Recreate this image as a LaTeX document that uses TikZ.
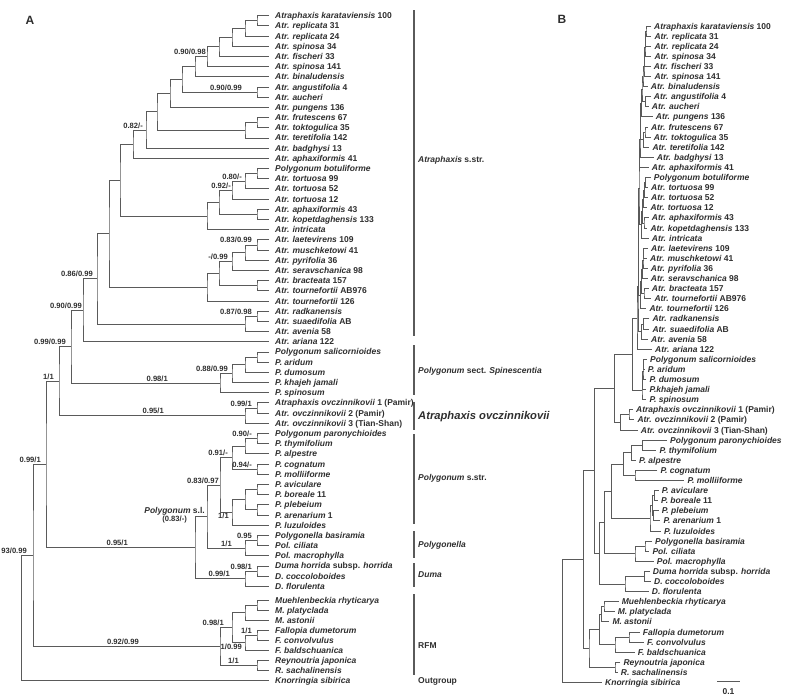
\documentclass[tikz,border=0pt]{standalone}
\usepackage{fontspec}
\setmainfont{Liberation Sans}
\usetikzlibrary{calc}
\definecolor{ink}{HTML}{2E2E2E}
\definecolor{edge}{HTML}{5A5A5A}
\tikzset{
  branch/.style={draw=edge, line width=0.9pt},
  bar/.style={draw=edge, line width=1.1pt},
  leaf/.style={anchor=base west, inner sep=0pt, text=ink,
               font=\bfseries\fontsize{8.5}{10}\selectfont},
  sup/.style={anchor=base east, inner sep=0pt, xshift=-1pt, yshift=2pt, text=ink,
              font=\bfseries\fontsize{7.6}{9}\selectfont},
  grp/.style={anchor=base west, inner sep=0pt, yshift=-3pt, text=ink,
              font=\bfseries\fontsize{8.5}{10}\selectfont},
  panel/.style={inner sep=0pt, text=ink, font=\bfseries\fontsize{12}{14}\selectfont},
}
% internal node: x given, y halfway between the two children
\newcommand\clade[4]{%
  \coordinate (#1m) at ($(#3)!.5!(#4)$);
  \coordinate (#1) at (#2,0 |- #1m);
  \draw[branch] (#3) -| (#1) |- (#4);}
\newcommand\supp[3][]{\node[sup,#1] (s#2) at (#2) {#3};}

\begin{document}
\begin{tikzpicture}[x=1pt, y=-1pt]
  \useasboundingbox (0,0) rectangle (795,699);

  % leaves: name / tip x in panel B
  \foreach \nm/\bx [count=\i] in {
    {\textit{Atraphaxis karataviensis} 100}/651,
    {\textit{Atr. replicata} 31}/651.3,
    {\textit{Atr. replicata} 24}/651.3,
    {\textit{Atr. spinosa} 34}/651.3,
    {\textit{Atr. fischeri} 33}/650.7,
    {\textit{Atr. spinosa} 141}/651.3,
    {\textit{Atr. binaludensis}}/647.7,
    {\textit{Atr. angustifolia} 4}/650.7,
    {\textit{Atr. aucheri}}/648.7,
    {\textit{Atr. pungens} 136}/652.7,
    {\textit{Atr. frutescens} 67}/648,
    {\textit{Atr. toktogulica} 35}/650.7,
    {\textit{Atr. teretifolia} 142}/649.3,
    {\textit{Atr. badghysi} 13}/653.7,
    {\textit{Atr. aphaxiformis} 41}/648.7,
    {\textit{Polygonum botuliforme}}/650.7,
    {\textit{Atr. tortuosa} 99}/648,
    {\textit{Atr. tortuosa} 52}/648,
    {\textit{Atr. tortuosa} 12}/647.3,
    {\textit{Atr. aphaxiformis} 43}/648.7,
    {\textit{Atr. kopetdaghensis} 133}/647.3,
    {\textit{Atr. intricata}}/648.7,
    {\textit{Atr. laetevirens} 109}/648,
    {\textit{Atr. muschketowi} 41}/647,
    {\textit{Atr. pyrifolia} 36}/647.7,
    {\textit{Atr. seravschanica} 98}/647.7,
    {\textit{Atr. bracteata} 157}/648.7,
    {\textit{Atr. tournefortii} AB976}/651.3,
    {\textit{Atr. tournefortii} 126}/646.3,
    {\textit{Atr. radkanensis}}/649.3,
    {\textit{Atr. suaedifolia} AB}/649.3,
    {\textit{Atr. avenia} 58}/648,
    {\textit{Atr. ariana} 122}/652,
    {\textit{Polygonum salicornioides}}/647,
    {\textit{P. aridum}}/644.7,
    {\textit{P. dumosum}}/646.3,
    {\textit{P. khajeh jamali}}/646.3,
    {\textit{P. spinosum}}/646.3,
    {\textit{Atraphaxis ovczinnikovii} 1 (Pamir)}/633,
    {\textit{Atr. ovczinnikovii} 2 (Pamir)}/634.3,
    {\textit{Atr. ovczinnikovii} 3 (Tian-Shan)}/637.7,
    {\textit{Polygonum paronychioides}}/667,
    {\textit{P. thymifolium}}/656.3,
    {\textit{P. alpestre}}/636,
    {\textit{P. cognatum}}/657.3,
    {\textit{P. molliiforme}}/684.3,
    {\textit{P. aviculare}}/658.7,
    {\textit{P. boreale} 11}/658,
    {\textit{P. plebeium}}/658.7,
    {\textit{P. arenarium} 1}/660.3,
    {\textit{P. luzuloides}}/661,
    {\textit{Polygonella basiramia}}/652,
    {\textit{Pol. ciliata}}/649.3,
    {\textit{Pol. macrophylla}}/653.7,
    {\textit{Duma horrida} subsp. \textit{horrida}}/649.7,
    {\textit{D. coccoloboides}}/651,
    {\textit{D. florulenta}}/648.7,
    {\textit{Muehlenbeckia rhyticarya}}/618.7,
    {\textit{M. platyclada}}/614.7,
    {\textit{M. astonii}}/609.3,
    {\textit{Fallopia dumetorum}}/639.7,
    {\textit{F. convolvulus}}/644,
    {\textit{F. baldschuanica}}/634.7,
    {\textit{Reynoutria japonica}}/620.3,
    {\textit{R. sachalinensis}}/617.7,
    {\textit{Knorringia sibirica}}/602}{
    \pgfmathsetmacro\ya{\i<58 ? 15.7+(\i-1)*10.19 : 600+(\i-58)*10.09}
    \pgfmathsetmacro\yb{26+(\i-1)*10.1}
    \coordinate (a\i) at (269,\ya);
    \coordinate (b\i) at (\bx,\yb);
    \node[leaf] (ta\i) at ([xshift=6pt, yshift=-3pt]a\i) {\nm};
    \node[leaf] (tb\i) at ([xshift=3pt, yshift=-3pt]b\i)
      {\ifnum\i=37 \textit{P.khajeh jamali}\else\nm\fi};
  }

  % clades: name / x in A / x in B / children
  \foreach \cl/\xa/\xb/\ka/\kb in {
    N1/257/646/1/2, N2/245/645.5/N1/3, N3/232/645/N2/4, N4/219/644.5/N3/5,
    N5/207/644/N4/6, N6/195/643/N5/7, Ang/257/645.5/8/9, N7/182/642/N6/Ang,
    N8/170/641.5/N7/10, Fru/257/645/11/12, Fru2/245/643.5/Fru/13,
    N9/157/640.5/N8/Fru2, N10/146/640/N9/14, N11/133/639.5/N10/15,
    Bot/257/645.5/16/17, T2/245/644.5/Bot/18, T3/232/643.5/T2/19,
    Aph/257/644/20/21, T4/219/642.5/T3/Aph, T5/207/641.5/T4/22,
    N12/120/639/N11/T5, Lae/257/643.5/23/24, L2/245/643/Lae/25,
    L3/232/642.5/L2/26, Bra/257/644/27/28, L4/219/641.5/L3/Bra,
    L5/207/640.5/L4/29, N13/109/638.5/N12/L5, Rad/257/643.5/30/31,
    Rad2/245/641.5/Rad/32, N14/97/638/N13/Rad2, N15/83/637/N14/33,
    Sal/257/643.5/34/35, S2/245/643/Sal/36, S3/232/642.5/S2/37,
    S4/220/642/S3/38, N16/71/632.3/N15/S4, Ov1/257/629/39/40,
    Ov2/245/620.7/Ov1/41, N17/59/614.3/N16/Ov2,
    Par/257/642.3/42/43, P2/245/631.7/Par/44, Cog/257/635/45/46,
    P3/232/623.3/P2/Cog, Av/257/654.3/47/48, Ple/257/653.7/49/50,
    P4/245/652.7/Av/Ple, P5/232/650/P4/51, P6/220/611.7/P3/P5,
    Pl1/257/645/52/53, Pl2/245/635/Pl1/54, P7/207/604.3/P6/Pl2,
    Du1/257/644.3/55/56, Du2/245/625/Du1/57, Psl/195/599.3/P7/Du2,
    N18/46/594.3/N17/Psl, Mu1/257/604/58/59, Mu2/245/601.7/Mu1/60,
    Fa1/257/629/61/62, Fa2/245/615/Fa1/63, MF/232/599.3/Mu2/Fa2,
    Rey/257/615/64/65, RFM/220/589/MF/Rey, N19/33/583.3/N18/RFM,
    Root/21.5/562.3/N19/66}{
    \clade{a\cl}{\xa}{a\ka}{a\kb}
    \clade{b\cl}{\xb}{b\ka}{b\kb}
  }

  % support values (A)
  \supp{aN5}{0.90/0.98}
  \supp[xshift=-14pt]{aAng}{0.90/0.99}
  \supp[xshift=-2pt]{aN10}{0.82/-}
  \supp[xshift=-14pt, yshift=-7.6pt]{aBot}{0.80/-}
  \supp{aT3}{0.92/-}
  \supp[xshift=-4pt]{aLae}{0.83/0.99}
  \supp[xshift=-3pt]{aL3}{-/0.99}
  \supp[xshift=-3pt]{aN14}{0.86/0.99}
  \supp[xshift=-4pt]{aRad}{0.87/0.98}
  \supp{aN15}{0.90/0.99}
  \supp[xshift=-4pt]{aN16}{0.99/0.99}
  \supp[xshift=-51pt]{aS4}{0.98/1}
  \supp[xshift=-3pt]{aS3}{0.88/0.99}
  \supp[xshift=-4pt]{aN17}{1/1}
  \supp[xshift=-80pt]{aOv2}{0.95/1}
  \supp[xshift=-4pt]{aOv1}{0.99/1}
  \supp[xshift=-4pt]{aPar}{0.90/-}
  \supp[xshift=-4pt]{aCog}{0.94/-}
  \supp[xshift=-3pt]{aP3}{0.91/-}
  \supp{aP6}{0.83/0.97}
  \supp[xshift=-2pt, yshift=-8.4pt]{aP5}{1/1}
  \supp[xshift=-4pt]{aPl1}{0.95}
  \supp[xshift=-12pt]{aPl2}{1/1}
  \supp[xshift=-66pt]{aPsl}{0.95/1}
  \supp[xshift=-4pt]{aDu1}{0.98/1}
  \supp[xshift=-14pt]{aDu2}{0.99/1}
  \supp[xshift=-4pt]{aN18}{0.99/1}
  \supp[xshift=-5pt]{aN19}{93/0.99}
  \supp[xshift=-4pt]{aFa1}{1/1}
  \supp[xshift=-2pt, yshift=-9pt]{aFa2}{1/0.99}
  \supp[xshift=-7pt]{aMF}{0.98/1}
  \supp[xshift=-17pt]{aRey}{1/1}
  \supp[xshift=-80pt]{aRFM}{0.92/0.99}
  \node[sup, anchor=east, align=center, yshift=-0.5pt] (sl) at ([xshift=-1pt]aP7)
    {{\fontsize{8.5}{10}\selectfont\textit{Polygonum} s.l.}\\[-1.5pt](0.83/-)};

  % clade bars
  \draw[bar] (414,10) -- (414,336);
  \draw[bar] (414,345) -- (414,395);
  \draw[bar] (414,401.7) -- (414,430);
  \draw[bar] (414,434) -- (414,524.3);
  \draw[bar] (414,531) -- (414,558.3);
  \draw[bar] (414,563.3) -- (414,587.3);
  \draw[bar] (414,594) -- (414,675);
  \node[grp] (gAtr) at (418,159.3) {\textit{Atraphaxis} s.str.};
  \node[grp] (gSpi) at (418,370) {\textit{Polygonum} sect. \textit{Spinescentia}};
  \node[grp, yshift=-1pt, font=\bfseries\itshape\fontsize{11.2}{13}\selectfont] (gOvc)
    at (418,415.7) {Atraphaxis ovczinnikovii};
  \node[grp] (gPol) at (418,477.3) {\textit{Polygonum} s.str.};
  \node[grp] (gPla) at (418,544.7) {\textit{Polygonella}};
  \node[grp] (gDum) at (418,574) {\textit{Duma}};
  \node[grp] (gRFM) at (418,645) {RFM};
  \node[grp] (gOut) at (418,680) {Outgroup};

  % panels and scale
  \node[panel] (pA) at (30,20) {A};
  \node[panel] (pB) at (562,19.5) {B};
  \coordinate (sc0) at (717,681.7);
  \coordinate (sc1) at (740,681.7);
  \draw[branch] (sc0) -- (sc1);
  \node[leaf, anchor=center, font=\bfseries\fontsize{8.5}{10}\selectfont] (scl)
    at ([yshift=-10pt]$(sc0)!.5!(sc1)$) {0.1};
\end{tikzpicture}
\end{document}
